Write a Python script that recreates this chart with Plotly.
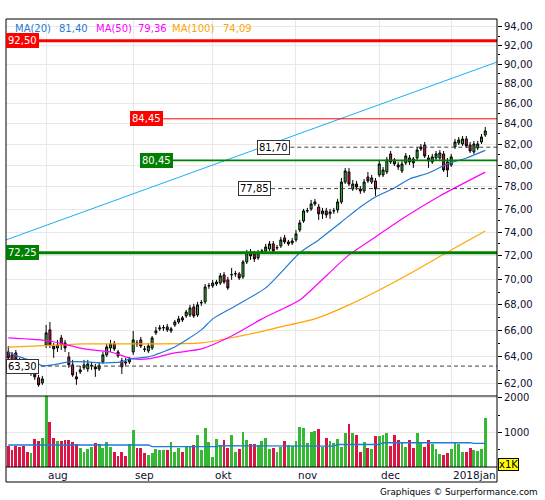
import math
import plotly.graph_objects as go

# ---------------- data ----------------
month_labels = ["aug", "sep", "okt", "nov", "dec", "2018jan"]
month_idx = [10, 33, 54, 76, 98, 117]

opens = [64.35, 64.13, 64.28, 63.61, 63.61, 63.32, 62.87, 62.87, 62.44, 62.07,
         64.88, 66.03, 64.80, 64.65, 65.41, 65.03, 63.98, 63.39, 62.51, 62.87,
         63.17, 63.09, 63.32, 63.24, 63.09, 63.61, 64.13, 64.65, 64.96, 64.35,
         63.69, 63.61, 63.61, 64.35, 65.03, 65.26, 64.58, 64.43, 64.65, 65.80,
         66.11, 66.18, 66.26, 65.95, 66.41, 66.64, 66.96, 67.11, 67.19, 67.82,
         67.19, 68.14, 68.22, 69.50, 69.50, 69.66, 69.74, 70.40, 69.99, 70.40,
         70.48, 70.48, 70.24, 71.47, 72.31, 72.14, 71.81, 72.31, 72.39, 72.56,
         72.99, 72.65, 72.82, 73.50, 72.99, 73.07, 73.33, 74.19, 74.97, 75.85,
         76.03, 76.47, 76.20, 75.59, 75.85, 75.59, 75.85, 75.94, 76.65, 78.45,
         79.38, 77.82, 78.27, 77.82, 77.64, 78.91, 78.45, 78.55, 79.10, 79.10,
         79.38, 81.06, 80.50, 80.03, 79.47, 80.22, 80.68, 80.59, 80.68, 81.53,
         81.91, 80.68, 80.31, 80.68, 80.68, 81.06, 80.31, 80.03, 81.72, 82.10,
         82.01, 82.49, 81.91, 81.25, 81.63, 82.20, 82.87]
highs = [64.80, 64.35, 64.50, 63.91, 63.91, 63.61, 63.46, 63.17, 62.65, 62.58,
         66.41, 66.64, 65.03, 65.26, 65.64, 65.26, 64.35, 63.76, 62.87, 63.32,
         63.76, 63.76, 63.61, 63.46, 63.61, 64.35, 64.96, 65.26, 65.18, 64.50,
         63.91, 63.91, 63.98, 65.95, 65.26, 65.49, 64.80, 65.03, 65.56, 66.26,
         66.41, 66.41, 66.49, 66.26, 66.80, 67.11, 67.11, 67.58, 67.98, 68.06,
         68.22, 68.37, 69.66, 69.74, 69.99, 69.99, 70.56, 70.64, 70.24, 70.97,
         70.73, 70.64, 71.64, 72.48, 72.56, 72.39, 72.48, 72.56, 72.99, 73.24,
         73.24, 72.90, 73.59, 73.76, 73.33, 73.50, 74.19, 75.06, 76.03, 76.12,
         76.83, 76.92, 76.47, 76.12, 76.12, 76.03, 76.12, 76.92, 78.82, 79.75,
         79.75, 78.64, 78.55, 78.09, 78.73, 79.38, 79.10, 78.82, 80.50, 79.84,
         80.78, 81.34, 80.68, 80.31, 80.50, 81.15, 80.96, 80.78, 81.72, 82.01,
         82.20, 80.96, 81.06, 81.34, 81.43, 81.34, 80.68, 81.06, 82.49, 82.68,
         82.78, 82.78, 82.20, 82.30, 82.30, 82.97, 83.65]
lows = [63.61, 63.32, 63.46, 63.02, 62.87, 62.72, 62.58, 62.29, 61.79, 61.93,
        64.65, 64.65, 63.91, 64.35, 64.50, 64.35, 63.17, 62.51, 61.93, 62.72,
        63.02, 62.87, 63.02, 62.51, 62.94, 63.46, 63.98, 64.35, 64.43, 63.91,
        62.72, 63.32, 63.46, 64.13, 64.73, 64.65, 64.35, 64.28, 64.50, 65.64,
        65.95, 65.95, 65.87, 65.80, 66.26, 66.49, 66.64, 66.96, 67.03, 66.96,
        67.03, 67.90, 68.06, 69.26, 69.34, 69.50, 69.58, 69.66, 69.18, 69.99,
        70.24, 69.99, 70.07, 71.30, 71.64, 71.47, 71.64, 72.14, 72.23, 72.39,
        72.23, 72.48, 72.65, 72.99, 72.82, 72.90, 73.16, 74.02, 74.80, 75.68,
        75.85, 76.29, 75.06, 75.15, 75.23, 75.15, 75.59, 75.68, 76.47, 78.27,
        78.09, 77.64, 77.73, 77.37, 77.46, 78.36, 78.27, 77.19, 78.91, 78.91,
        79.19, 80.12, 79.94, 79.56, 79.28, 80.03, 80.03, 79.75, 80.50, 81.34,
        80.68, 79.75, 80.12, 80.50, 80.50, 79.38, 78.91, 79.84, 81.53, 81.91,
        81.82, 81.63, 81.15, 81.06, 81.43, 82.01, 82.68]
closes = [63.91, 63.61, 63.76, 63.32, 63.17, 63.02, 63.17, 62.51, 61.93, 62.36,
          65.80, 64.88, 64.58, 64.88, 64.88, 64.65, 63.39, 62.65, 62.36, 63.02,
          63.39, 63.46, 63.35, 63.09, 63.32, 64.13, 64.73, 64.96, 64.58, 64.06,
          63.24, 63.54, 63.83, 65.26, 64.96, 64.80, 64.55, 64.80, 65.41, 65.95,
          66.18, 66.20, 66.03, 66.11, 66.64, 66.88, 66.80, 67.42, 67.74, 67.11,
          67.98, 68.16, 69.42, 69.52, 69.74, 69.82, 70.32, 69.82, 69.34, 70.42,
          70.50, 70.15, 71.47, 72.23, 71.98, 71.72, 72.23, 72.39, 72.73, 72.99,
          72.39, 72.67, 73.33, 73.16, 73.16, 73.24, 73.85, 74.80, 75.85, 75.87,
          76.47, 76.65, 75.59, 75.85, 75.50, 75.76, 75.87, 76.65, 78.45, 79.47,
          78.27, 78.27, 78.00, 77.64, 78.45, 78.55, 78.82, 77.82, 80.12, 79.56,
          80.50, 80.31, 80.12, 79.84, 80.12, 80.87, 80.31, 80.22, 81.43, 81.72,
          80.87, 80.40, 80.78, 81.06, 81.15, 79.56, 79.56, 80.78, 82.20, 82.39,
          82.49, 81.82, 81.34, 82.01, 82.01, 82.68, 83.26]
volumes = [606, 490, 606, 567, 606, 433, 394, 798, 750, 827,
           2048, 1308, 827, 750, 750, 779, 779, 731, 663, 538,
           442, 510, 587, 683, 663, 538, 712, 587, 442, 327,
           442, 327, 663, 1067, 538, 538, 394, 346, 413, 510,
           490, 490, 490, 712, 442, 538, 442, 568, 587, 635,
           923, 490, 1115, 712, 298, 798, 635, 779, 538, 923,
           442, 510, 1019, 779, 663, 663, 635, 750, 827, 519,
           538, 442, 568, 750, 635, 606, 760, 1163, 1115, 702,
           1019, 1048, 1087, 587, 827, 760, 683, 798, 587, 971,
           1231, 971, 913, 442, 731, 538, 510, 894, 894, 923,
           971, 606, 923, 779, 683, 587, 779, 538, 971, 683,
           587, 779, 663, 510, 375, 346, 413, 510, 683, 663,
           442, 433, 538, 490, 462, 510, 1404]

# moving averages (candle index, value)
ma20_idx = [0, 3, 7, 9, 12, 16, 21, 24, 30, 32, 37, 44, 51, 54, 60, 68, 77, 82, 88, 93, 97, 102, 106, 111, 116, 121, 126]
ma20_val = [64.35, 63.98, 63.61, 63.32, 63.40, 63.61, 63.61, 63.54, 63.61, 63.83, 63.98, 64.73, 66.03, 66.88,
            67.90, 69.34, 72.23, 73.33, 74.88, 76.20, 77.10, 77.91, 78.73, 79.28, 80.12, 80.68, 81.40]
ma50_idx = [0, 11, 20, 27, 33, 37, 44, 51, 59, 67, 77, 82, 90, 97, 104, 114, 126]
ma50_val = [65.41, 65.18, 64.58, 64.35, 63.83, 63.83, 64.28, 64.58, 65.56, 66.88, 68.37, 69.74, 72.06, 73.59,
            75.15, 77.19, 79.36]
ma100_idx = [0, 11, 20, 33, 51, 64, 72, 81, 90, 104, 117, 126]
ma100_val = [64.71, 64.84, 64.96, 64.96, 65.03, 65.72, 66.26, 66.88, 67.98, 70.15, 72.48, 74.09]
vma_idx = [0, 9, 10, 21, 22, 37, 38, 55, 56, 71, 72, 86, 87, 98, 99, 122, 123, 126]
vma_val = [635, 635, 620, 620, 640, 640, 590, 590, 615, 615, 600, 600, 650, 650, 700, 705, 680, 680]

trend_x = [-0.6, 129.1]
trend_y = [73.33, 90.23]

legend_items = [("MA(20)", "81,40"), ("MA(50)", "79,36"), ("MA(100)", "74,09")]

price_ticks = [62, 64, 66, 68, 70, 72, 74, 76, 78, 80, 82, 84, 86, 88, 90, 92, 94]
price_tick_text = ["62,00", "64,00", "66,00", "68,00", "70,00", "72,00", "74,00", "76,00", "78,00",
                   "80,00", "82,00", "84,00", "86,00", "88,00", "90,00", "92,00", "94,00"]
price_minor = [63, 65, 67, 69, 71, 73, 75, 77, 79, 81, 83, 85, 87, 89, 91, 93]
vol_ticks = [1000, 2000]
vol_tick_text = ["1000", "2000"]
vol_minor = [500, 1500]

# ---------------- style ----------------
FONT = "DejaVu Sans"
GREEN = "#35b935"
RED = "#dc1446"
C_MA20 = "#1f7ad6"
C_MA50 = "#ff00ff"
C_MA100 = "#ffa500"
C_TREND = "#1ab0f0"
GRID = "#e8e8e8"
TXT = "#101030"

W, H = 545, 500
ML, MR, MT, MB = 6, 48, 19, 18
PH = H - MT - MB
main_dom = [(H - MB - 396) / PH, 1.0]
vol_dom = [(H - MB - 467) / PH, (H - MB - 396) / PH]
X_RANGE = [-0.6, 129.1]


def py(pix):
    """paper y from pixel y"""
    return (H - MB - pix) / PH


def pxp(pix):
    """paper x from pixel x"""
    return (pix - ML) / (W - ML - MR)


n = len(closes)
xs = list(range(n))

fig = go.Figure()

# trend line
fig.add_trace(go.Scatter(x=trend_x, y=trend_y, mode="lines", line=dict(color=C_TREND, width=1),
                         xaxis="x", yaxis="y", hoverinfo="skip"))

# moving averages
fig.add_trace(go.Scatter(x=ma100_idx, y=ma100_val, mode="lines", line=dict(color=C_MA100, width=1.2, shape="spline", smoothing=0.6),
                         xaxis="x", yaxis="y", hoverinfo="skip"))
fig.add_trace(go.Scatter(x=ma50_idx, y=ma50_val, mode="lines", line=dict(color=C_MA50, width=1.2, shape="spline", smoothing=0.6),
                         xaxis="x", yaxis="y", hoverinfo="skip"))
fig.add_trace(go.Scatter(x=ma20_idx, y=ma20_val, mode="lines", line=dict(color=C_MA20, width=1.2, shape="spline", smoothing=0.6),
                         xaxis="x", yaxis="y", hoverinfo="skip"))

# candles
fig.add_trace(go.Candlestick(
    x=xs, open=opens, high=highs, low=lows, close=closes,
    increasing=dict(fillcolor=GREEN, line=dict(color="black", width=1)),
    decreasing=dict(fillcolor=RED, line=dict(color="black", width=1)),
    whiskerwidth=0, xaxis="x", yaxis="y", hoverinfo="skip"))

# horizontal levels
def hline(x0, x1, y, color, width, dash="solid"):
    fig.add_trace(go.Scatter(x=[x0, x1], y=[y, y], mode="lines",
                             line=dict(color=color, width=width, dash=dash),
                             xaxis="x", yaxis="y", hoverinfo="skip"))

hline(X_RANGE[0], X_RANGE[1], 92.50, "#ff0000", 3)
hline(40.9, X_RANGE[1], 84.45, "#ff0000", 1)
hline(43.5, X_RANGE[1], 80.45, "#008000", 1.6)
hline(X_RANGE[0], X_RANGE[1], 72.25, "#008000", 3)
hline(74.5, X_RANGE[1], 81.70, "#444444", 1, "4px,3px")
hline(69.4, X_RANGE[1], 77.85, "#444444", 1, "4px,3px")
hline(X_RANGE[0], X_RANGE[1], 63.30, "#444444", 1, "4px,3px")

# volume
vcolors = [GREEN if c >= o else RED for o, c in zip(opens, closes)]
fig.add_trace(go.Bar(x=xs, y=volumes, marker=dict(color=vcolors, line=dict(width=0)), width=0.75,
                     xaxis="x2", yaxis="y2", hoverinfo="skip"))
fig.add_trace(go.Scatter(x=vma_idx, y=vma_val, mode="lines", line=dict(color=C_MA20, width=1.3),
                         xaxis="x2", yaxis="y2", hoverinfo="skip"))

annotations = []

# level labels
def level_label(text, x, xref, xanchor, price, bg, fg, border):
    annotations.append(dict(text=text, x=x, xref=xref, xanchor=xanchor, y=math.log10(price), yref="y",
                            yanchor="middle", showarrow=False, bgcolor=bg, bordercolor=border, borderwidth=1,
                            borderpad=1, font=dict(family=FONT, size=10, color=fg)))

level_label("92,50", 0, "paper", "left", 92.50, "#ff0000", "white", "#ff0000")
level_label("84,45", 40.9, "x", "right", 84.45, "#ff0000", "white", "#ff0000")
level_label("80,45", 43.5, "x", "right", 80.45, "#008000", "white", "#008000")
level_label("72,25", 0, "paper", "left", 72.25, "#008000", "white", "#008000")
level_label("81,70", 74.5, "x", "right", 81.70, "white", "black", "#333333")
level_label("77,85", 69.4, "x", "right", 77.85, "white", "black", "#333333")
level_label("63,30", 0, "paper", "left", 63.30, "white", "black", "#333333")

# legend line
leg_pos = [(13, 57), (94, 136), (170, 221)]
leg_cols = [C_MA20, C_MA50, C_MA100]
for (name, val), (xa, xb), col in zip(legend_items, leg_pos, leg_cols):
    annotations.append(dict(text=name, x=pxp(xa), xref="paper", xanchor="left", y=py(28), yref="paper",
                            yanchor="middle", showarrow=False, font=dict(family=FONT, size=10, color=col)))
    annotations.append(dict(text=val, x=pxp(xb), xref="paper", xanchor="left", y=py(28), yref="paper",
                            yanchor="middle", showarrow=False, font=dict(family=FONT, size=10, color=col)))

# month labels
for lab, idx in zip(month_labels, month_idx):
    annotations.append(dict(text=lab, x=idx, xref="x", xanchor="left", xshift=0, y=py(474.5), yref="paper",
                            yanchor="middle", showarrow=False, font=dict(family=FONT, size=10.5, color=TXT)))

# x1K box
annotations.append(dict(text="x1K", x=pxp(498), xref="paper", xanchor="left", y=py(464), yref="paper",
                        yanchor="middle", showarrow=False, bgcolor="#ffff00", bordercolor="black", borderwidth=1,
                        borderpad=0, font=dict(family=FONT, size=10, color="black")))
# footer
annotations.append(dict(text="Graphiques © Surperformance.com", x=pxp(540), xref="paper", xanchor="right",
                        y=py(492), yref="paper", yanchor="middle", showarrow=False,
                        font=dict(family=FONT, size=8.8, color="black")))

shapes = [
    dict(type="rect", xref="paper", yref="paper", x0=0, x1=1, y0=0, y1=1, line=dict(color="black", width=1)),
    dict(type="line", xref="paper", yref="paper", x0=0, x1=1, y0=main_dom[0], y1=main_dom[0], line=dict(color="black", width=1)),
    dict(type="line", xref="paper", yref="paper", x0=0, x1=1, y0=vol_dom[0], y1=vol_dom[0], line=dict(color="black", width=1)),
]

axis_font = dict(family=FONT, size=10, color=TXT)
fig.update_layout(
    width=W, height=H, margin=dict(l=ML, r=MR, t=MT, b=MB),
    paper_bgcolor="white", plot_bgcolor="white", showlegend=False,
    boxgap=0.25, bargap=0,
    xaxis=dict(domain=[0, 1], anchor="y", range=X_RANGE, tickmode="array", tickvals=month_idx,
               showticklabels=False, ticks="", showgrid=True, gridcolor=GRID, gridwidth=1, zeroline=False,
               rangeslider=dict(visible=False), showline=False),
    xaxis2=dict(domain=[0, 1], anchor="y2", matches="x", range=X_RANGE, tickmode="array", tickvals=month_idx,
                showticklabels=False, ticks="", showgrid=True, gridcolor=GRID, gridwidth=1, zeroline=False,
                showline=False),
    yaxis=dict(domain=main_dom, anchor="x", type="log", range=[math.log10(61.13), math.log10(94.87)],
               side="right", tickmode="array", tickvals=price_ticks, ticktext=price_tick_text,
               ticks="outside", ticklen=4, tickcolor="black", tickfont=axis_font,
               minor=dict(tickmode="array", tickvals=price_minor, ticks="outside", ticklen=2, tickcolor="black", showgrid=False),
               showgrid=True, gridcolor=GRID, zeroline=False, showline=False),
    yaxis2=dict(domain=vol_dom, anchor="x2", range=[0, 2049], side="right", tickmode="array",
                tickvals=vol_ticks, ticktext=vol_tick_text, ticks="outside", ticklen=4, tickcolor="black",
                tickfont=axis_font,
                minor=dict(tickmode="array", tickvals=vol_minor, ticks="outside", ticklen=2, tickcolor="black", showgrid=False),
                showgrid=True, gridcolor=GRID, zeroline=False, showline=False),
    annotations=annotations, shapes=shapes,
)

fig.write_html("out.html", config={"displayModeBar": False},
               post_script="document.body.style.margin='0';document.body.style.overflow='hidden';")
